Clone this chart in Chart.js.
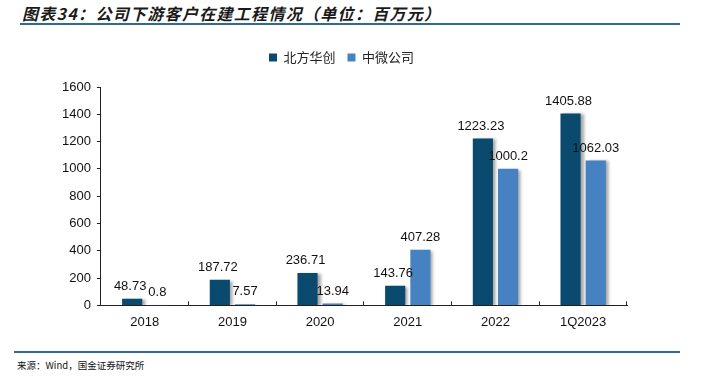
<!DOCTYPE html>
<html>
<head>
    <meta charset="utf-8">
    <script src="https://cdn.jsdelivr.net/npm/chart.js"></script>
    <style>
        body { margin: 0; background: #fff; }
        .wrap { position: relative; width: 701px; height: 378px; overflow: hidden; }
        .title {
            position: absolute; left: 22px; top: 1px;
            font-family: "Noto Sans CJK SC", sans-serif; font-size: 16px; letter-spacing: 1.3px;
            font-style: italic; font-weight: bold; color: #1a1a1a; white-space: nowrap;
        }
        .line { position: absolute; height: 2px; background: #2e6a94; }
        .source {
            position: absolute; left: 17px; top: 358px;
            font-family: "Noto Sans CJK SC", sans-serif; font-size: 9.5px; color: #111;
        }
        #chartBox { position: absolute; left: 0; top: 30px; width: 701px; height: 313px; }
    </style>
</head>
<body>
<div class="wrap">
    <div class="title">图表34：公司下游客户在建工程情况（单位：百万元）</div>
    <div class="line" style="left:20px; top:23px; width:660px;"></div>
    <div id="chartBox"><canvas id="c"></canvas></div>
    <div class="line" style="left:14px; top:351px; width:666px;"></div>
    <div class="source">来源：Wind，国金证券研究所</div>
</div>
<script>
    // 數據
    const categories = ['2018', '2019', '2020', '2021', '2022', '1Q2023'];
    const naura = [48.73, 187.72, 236.71, 143.76, 1223.23, 1405.88];
    const amec = [0.8, 7.57, 13.94, 407.28, 1000.2, 1062.03];
    const seriesNames = ['北方华创', '中微公司'];
    const yTicks = [0, 200, 400, 600, 800, 1000, 1200, 1400, 1600];

    // 圖例與圖表之間多留一點空間
    const legendGap = {
        id: 'legendGap',
        beforeInit(chart) {
            const fit = chart.legend.fit;
            chart.legend.fit = function() {
                fit.bind(chart.legend)();
                this.height += 13;
            };
        }
    };

    // 柱子陰影
    const shadowPlugin = {
        id: 'shadow',
        beforeDatasetsDraw(chart) {
            const ctx = chart.ctx;
            ctx.save();
            ctx.shadowColor = 'rgba(0,0,0,0.35)';
            ctx.shadowBlur = 3;
            ctx.shadowOffsetX = 3;
            ctx.shadowOffsetY = 1;
        },
        afterDatasetsDraw(chart) {
            chart.ctx.restore();
        }
    };

    // 數值標籤
    const labelPlugin = {
        id: 'labels',
        afterDatasetsDraw(chart) {
            const ctx = chart.ctx;
            ctx.save();
            ctx.font = '13px "Liberation Sans", Arial, sans-serif';
            ctx.fillStyle = '#111';
            ctx.textAlign = 'center';
            ctx.textBaseline = 'bottom';
            chart.data.datasets.forEach((ds, i) => {
                chart.getDatasetMeta(i).data.forEach((bar, j) => {
                    const dx = i === 0 ? -2 : 0;
                    ctx.fillText(String(ds.data[j]), bar.x + dx, bar.y - 6);
                });
            });
            ctx.restore();
        }
    };

    new Chart(document.getElementById('c'), {
        type: 'bar',
        data: {
            labels: categories,
            datasets: [
                { label: seriesNames[0], data: naura, backgroundColor: '#0b4a6f' },
                { label: seriesNames[1], data: amec, backgroundColor: '#4682c2' }
            ]
        },
        options: {
            responsive: true,
            maintainAspectRatio: false,
            animation: false,
            categoryPercentage: 0.575,
            barPercentage: 0.8,
            layout: { padding: { left: 56, right: 74, top: 9, bottom: 0 } },
            plugins: {
                legend: {
                    position: 'top',
                    labels: {
                        boxWidth: 8, boxHeight: 8, padding: 12,
                        color: '#222',
                        font: { size: 13, family: '"Noto Sans CJK SC", sans-serif' }
                    }
                },
                tooltip: { enabled: false }
            },
            scales: {
                x: {
                    grid: { display: true, drawOnChartArea: false, offset: true, tickLength: -4, color: '#222' },
                    border: { color: '#222', width: 1 },
                    ticks: { color: '#111', font: { size: 13, family: '"Liberation Sans", Arial' }, padding: 13 }
                },
                y: {
                    min: 0, max: 1600,
                    afterBuildTicks(axis) { axis.ticks = yTicks.map(v => ({ value: v })); },
                    grid: { drawOnChartArea: false, tickLength: 4, color: '#222' },
                    border: { color: '#222', width: 1 },
                    ticks: {
                        color: '#111', font: { size: 13, family: '"Liberation Sans", Arial' }, padding: 6,
                        callback: v => String(v)
                    }
                }
            }
        },
        plugins: [legendGap, shadowPlugin, labelPlugin]
    });
</script>
</body>
</html>
